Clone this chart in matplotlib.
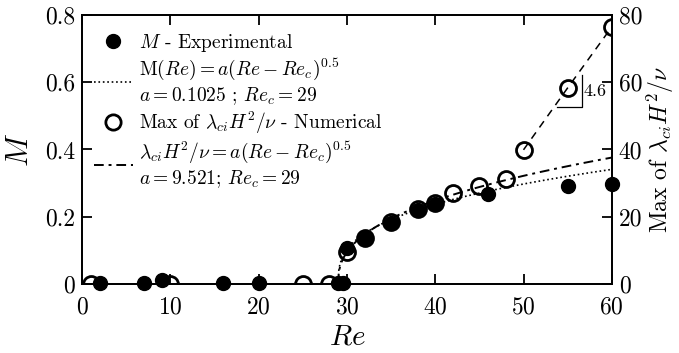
import numpy as np
import matplotlib
matplotlib.use('Agg')
import matplotlib.pyplot as plt
from matplotlib.lines import Line2D

plt.rcParams['font.family'] = 'serif'
plt.rcParams['font.serif'] = ['cmr10']
plt.rcParams['mathtext.fontset'] = 'cm'
plt.rcParams['axes.formatter.use_mathtext'] = True
plt.rcParams['axes.linewidth'] = 1.3

# experimental M (left axis)
re_exp = [2, 7, 9, 16, 20, 29, 29.5, 30, 32, 35, 38, 40, 46, 55, 60]
m_exp = [0.003, 0.003, 0.013, 0.003, 0.003, 0.003, 0.003, 0.107, 0.137, 0.182, 0.221, 0.238, 0.268, 0.292, 0.297]

# numerical max of lambda_ci H^2/nu (right axis)
re_num = [1, 10, 25, 28, 30, 32, 35, 38, 40, 42, 45, 48, 50, 55, 60]
lam_num = [0, 0, 0, 0, 9.5, 13.8, 18.5, 22.2, 24.0, 27.1, 29.1, 31.2, 39.9, 58.3, 76.4]

# fit parameters (exponents as seen in the drawn curves)
a_exp, rec_exp, p_exp = 0.1025, 29, 0.35
a_num, rec_num, p_num = 9.521, 29, 0.4
re_lin = [50, 55, 60]
lam_lin = [39.9, 58.3, 76.4]

fig = plt.figure(figsize=(6.79, 3.53), dpi=100)
ax = fig.add_axes([0.121, 0.195, 0.780, 0.763])
ax2 = ax.twinx()

re_fit = np.linspace(29, 60, 400)
ax.plot(re_fit, a_exp * (re_fit - rec_exp) ** p_exp, color='black', ls=':', lw=1.2)
ax2.plot(re_fit, a_num * (re_fit - rec_num) ** p_num, color='black',
         ls=(0, (5, 2.5, 1.5, 2.5)), lw=1.4)
ax2.plot(re_lin, lam_lin, color='black', ls=(0, (5, 4)), lw=1.1)

ax.plot(re_exp, m_exp, 'o', color='black', ms=10, clip_on=False, zorder=3)
ax2.plot(re_num, lam_num, 'o', mfc='none', mec='black', mew=2, ms=11.5, zorder=3, clip_on=True)

# slope triangle
ax2.plot([53.8, 56.6, 56.6], [52.6, 52.6, 62.2], color='black', lw=0.9)
ax2.text(56.8, 57.4, '4.6', fontsize=13, va='center', ha='left')

ax.set_xlim(0, 60)
ax.set_ylim(0, 0.8)
ax2.set_ylim(0, 80)
ax.set_xticks(np.arange(0, 61, 10))
ax.set_yticks([0, 0.2, 0.4, 0.6, 0.8])
ax2.set_yticks([0, 20, 40, 60, 80])
ax.set_yticklabels(['0', '0.2', '0.4', '0.6', '0.8'])
ax2.set_yticklabels(['0', '20', '40', '60', '80'])
ax.tick_params(direction='in', length=7, width=1.3, labelsize=17, top=True, right=False, pad=5)
ax.tick_params(axis='x', pad=9)
ax2.tick_params(direction='in', length=7, width=1.3, labelsize=17, pad=5)

ax.set_xlabel('$Re$', fontsize=21, labelpad=4)
ax.set_ylabel('$M$', fontsize=22, labelpad=8)
ax2.set_ylabel(r'Max of $\lambda_{ci}H^2/\nu$', fontsize=17, labelpad=2)

handles = [
    Line2D([], [], ls='none', marker='o', color='black', ms=10),
    Line2D([], [], ls=':', color='black', lw=1.2),
    Line2D([], [], ls='none', marker='o', mfc='none', mec='black', mew=2, ms=11),
    Line2D([], [], ls=(0, (5, 2.5, 1.5, 2.5)), color='black', lw=1.4),
]
labels = [
    '$M$ - Experimental',
    'M$(Re) = a(Re - Re_c)^{0.5}$\n$a = 0.1025$ ; $Re_c = 29$',
    r'Max of $\lambda_{ci}H^2/\nu$ - Numerical',
    r'$\lambda_{ci}H^2/\nu = a(Re - Re_c)^{0.5}$' + '\n' + '$a = 9.521$; $Re_c = 29$',
]
ax2.legend(handles, labels, loc='upper left', frameon=False, fontsize=14,
           handlelength=2.0, handletextpad=0.3, labelspacing=0.15,
           borderaxespad=0.2, bbox_to_anchor=(0.0, 0.98))

fig.savefig('out.png', dpi=100)
